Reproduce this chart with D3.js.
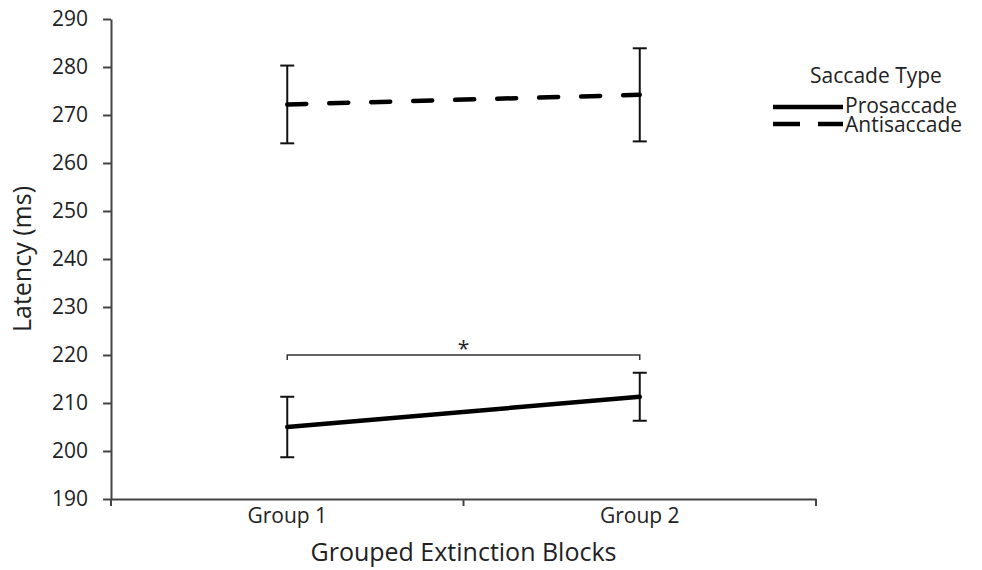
<!DOCTYPE html>
<html>
<head>
<meta charset="utf-8">
<script src="https://cdn.jsdelivr.net/npm/d3@7"></script>
<style>
  body { margin: 0; background: #fff; }
  text { font-family: "Open Sans", "Noto Sans", sans-serif; fill: #222; }
</style>
</head>
<body>
<div id="chart"></div>
<script>
// categories and values
var groups = ["Group 1", "Group 2"];
var prosaccade = [205, 211.3];
var prosaccadeErr = [6.3, 5];
var antisaccade = [272.2, 274.2];
var antisaccadeErr = [8.1, 9.7];
var yTicks = [190, 200, 210, 220, 230, 240, 250, 260, 270, 280, 290];
var sigLevel = 220;

var W = 982, H = 570;
var margin = {top: 19, right: 166, bottom: 71, left: 111},
    width = W - margin.left - margin.right,
    height = H - margin.top - margin.bottom;

var svg = d3.select("#chart")
    .append("svg")
    .attr("width", W)
    .attr("height", H)
    .append("g")
    .attr("transform", "translate(" + margin.left + "," + margin.top + ")");

var x = d3.scaleBand()
    .domain(groups)
    .range([0, width]);

var y = d3.scaleLinear()
    .domain([190, 290])
    .range([height, 0]);

var cx = function(g) { return x(g) + x.bandwidth() / 2; };

// X axis
var xAxis = svg.append("g")
    .attr("transform", "translate(0," + height + ")")
    .call(d3.axisBottom(x).tickSize(0).tickPadding(9));
xAxis.select(".domain").attr("stroke", "#444").attr("stroke-width", 2);
xAxis.selectAll("text").style("font-size", "21px");
// category boundary ticks
xAxis.selectAll(".bound")
    .data([0, x.bandwidth(), width])
    .enter()
    .append("line")
    .attr("x1", function(d) { return d; })
    .attr("x2", function(d) { return d; })
    .attr("y1", 0)
    .attr("y2", 7)
    .attr("stroke", "#444")
    .attr("stroke-width", 2);

// Y axis
var yAxis = svg.append("g")
    .call(d3.axisLeft(y).tickValues(yTicks).tickSize(8).tickSizeOuter(0).tickPadding(15));
yAxis.select(".domain").attr("stroke", "#444").attr("stroke-width", 2);
yAxis.selectAll(".tick line").attr("stroke", "#444").attr("stroke-width", 2);
yAxis.selectAll("text").style("font-size", "21px");

// axis titles
svg.append("text")
    .attr("x", width / 2)
    .attr("y", height + 62)
    .attr("text-anchor", "middle")
    .style("font-size", "25px")
    .text("Grouped Extinction Blocks");

svg.append("text")
    .attr("transform", "translate(" + (-80) + "," + (height / 2) + ") rotate(-90)")
    .attr("text-anchor", "middle")
    .style("font-size", "25px")
    .text("Latency (ms)");

// error bars
function errorBars(vals, errs) {
    var d = groups.map(function(g, i) { return {g: g, v: vals[i], e: errs[i]}; });
    var eb = svg.append("g");
    eb.selectAll(".stem").data(d).enter().append("line")
        .attr("x1", function(d) { return cx(d.g); })
        .attr("x2", function(d) { return cx(d.g); })
        .attr("y1", function(d) { return y(d.v - d.e); })
        .attr("y2", function(d) { return y(d.v + d.e); })
        .attr("stroke", "#111").attr("stroke-width", 2);
    [-1, 1].forEach(function(s) {
        eb.selectAll(".cap" + s).data(d).enter().append("line")
            .attr("x1", function(d) { return cx(d.g) - 7; })
            .attr("x2", function(d) { return cx(d.g) + 7; })
            .attr("y1", function(d) { return y(d.v + s * d.e); })
            .attr("y2", function(d) { return y(d.v + s * d.e); })
            .attr("stroke", "#111").attr("stroke-width", 2);
    });
}
errorBars(prosaccade, prosaccadeErr);
errorBars(antisaccade, antisaccadeErr);

// lines
var line = d3.line()
    .x(function(d, i) { return cx(groups[i]); })
    .y(function(d) { return y(d); });

svg.append("path")
    .datum(prosaccade)
    .attr("d", line)
    .attr("fill", "none")
    .attr("stroke", "#000")
    .attr("stroke-width", 4.5)
    .attr("stroke-linecap", "round");

svg.append("path")
    .datum(antisaccade)
    .attr("d", line)
    .attr("fill", "none")
    .attr("stroke", "#000")
    .attr("stroke-width", 4.5)
    .attr("stroke-dasharray", "19,23")
    .attr("stroke-linecap", "round");

// significance bracket
var sy = y(sigLevel);
svg.append("path")
    .attr("d", "M" + cx(groups[0]) + "," + (sy + 5) + "V" + sy + "H" + cx(groups[1]) + "V" + (sy + 5))
    .attr("fill", "none")
    .attr("stroke", "#333")
    .attr("stroke-width", 1.5);
svg.append("text")
    .attr("x", width / 2)
    .attr("y", sy + 1)
    .attr("text-anchor", "middle")
    .style("font-size", "21px")
    .text("*");

// legend
var legend = svg.append("g")
    .attr("transform", "translate(" + (773 - margin.left) + "," + (83 - margin.top) + ")");
legend.append("text")
    .attr("x", 103)
    .attr("y", 0)
    .attr("text-anchor", "middle")
    .style("font-size", "21px")
    .text("Saccade Type");
var items = [{name: "Prosaccade", dash: null}, {name: "Antisaccade", dash: "27,18"}];
items.forEach(function(it, i) {
    var yy = 24 + i * 17;
    legend.append("line")
        .attr("x1", 0).attr("x2", 70)
        .attr("y1", yy).attr("y2", yy)
        .attr("stroke", "#000")
        .attr("stroke-width", 4.5)
        .attr("stroke-dasharray", it.dash);
    legend.append("text")
        .attr("x", 72)
        .attr("y", yy + 6 + i * 2)
        .style("font-size", "21px")
        .text(it.name);
});
</script>
</body>
</html>
